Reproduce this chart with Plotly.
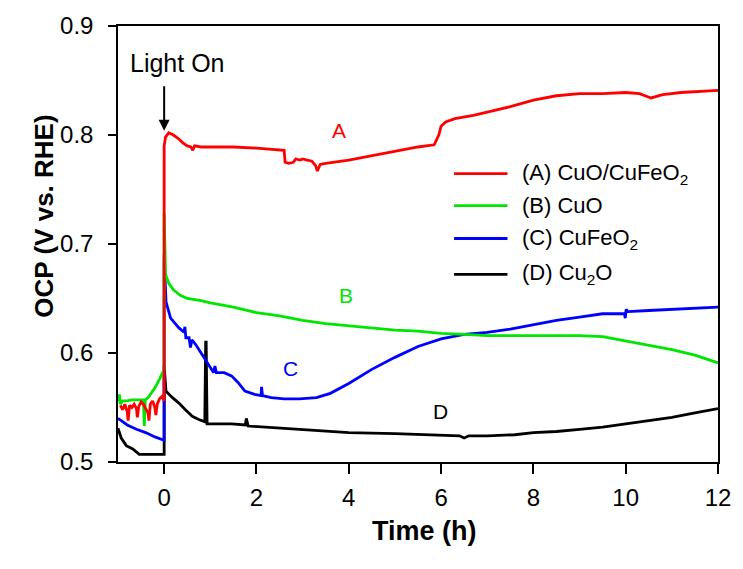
import plotly.graph_objects as go

# ---------------- data ----------------
tA = [-0.95, -0.9, -0.85, -0.8, -0.78, -0.75, -0.7, -0.65, -0.6, -0.58, -0.55, -0.5, -0.45, -0.4, -0.35, -0.33,
      -0.3, -0.25, -0.2, -0.18, -0.15, -0.1, -0.05, 0.0,
      0.0, 0.03, 0.1, 0.2, 0.3, 0.4, 0.5, 0.58, 0.62, 0.66, 0.8, 1.0, 1.5, 2.0, 2.3, 2.6,
      2.62, 2.7, 2.8, 2.85, 2.95, 3.0, 3.1, 3.2, 3.28, 3.32, 3.38, 3.5, 4.0, 4.5, 5.0, 5.5, 5.85,
      5.9, 5.95, 6.0, 6.1, 6.3, 6.7, 7.0, 7.5, 8.0, 8.5, 9.0, 9.5, 10.0, 10.3, 10.55, 10.8,
      11.2, 11.6, 12.0]
vA = [0.552, 0.548, 0.553, 0.546, 0.538, 0.552, 0.550, 0.553, 0.549, 0.541, 0.551, 0.555, 0.553, 0.549, 0.545, 0.538,
      0.553, 0.556, 0.550, 0.543, 0.553, 0.558, 0.560, 0.556,
      0.790, 0.798, 0.802, 0.800, 0.797, 0.793, 0.790, 0.789, 0.786, 0.790, 0.789, 0.789, 0.789, 0.788, 0.787, 0.786,
      0.775, 0.774, 0.775, 0.778, 0.777, 0.778, 0.777, 0.776, 0.772, 0.767, 0.773, 0.774, 0.777, 0.781, 0.785, 0.789, 0.791,
      0.796, 0.800, 0.808, 0.812, 0.815, 0.818, 0.821, 0.826, 0.832, 0.836, 0.838, 0.838, 0.839, 0.838, 0.834, 0.837,
      0.839, 0.840, 0.841]

tB = [-1.0, -0.97, -0.95, -0.9, -0.8, -0.7, -0.6, -0.5, -0.45, -0.43, -0.41, -0.35, -0.3, -0.2, -0.1, 0.0,
      0.0, 0.03, 0.1, 0.2, 0.35, 0.5, 0.8, 1.0, 1.5, 2.0, 2.5, 3.0, 3.5, 4.0, 4.5, 5.0, 5.5, 6.0, 6.5,
      7.0, 7.5, 8.0, 8.5, 9.0, 9.5, 10.0, 10.5, 11.0, 11.5, 12.0]
vB = [0.556, 0.562, 0.553, 0.556, 0.556, 0.557, 0.557, 0.557, 0.557, 0.533, 0.557, 0.559, 0.562, 0.568, 0.576, 0.585,
      0.728, 0.672, 0.664, 0.658, 0.653, 0.650, 0.648, 0.646, 0.642, 0.637, 0.634, 0.630, 0.627, 0.625, 0.623, 0.621,
      0.620, 0.618, 0.617, 0.616, 0.616, 0.616, 0.616, 0.616, 0.615, 0.611, 0.607, 0.603, 0.598, 0.591]

tC = [-1.0, -0.9, -0.8, -0.6, -0.4, -0.2, 0.0,
      0.0, 0.04, 0.14, 0.32, 0.43, 0.45, 0.47, 0.54, 0.57, 0.6, 0.68, 0.82, 0.96, 1.07, 1.1, 1.13, 1.3, 1.46,
      1.6, 1.75, 1.96, 2.1, 2.11, 2.13, 2.32, 2.6, 2.93, 3.3, 3.6, 4.0, 4.5, 5.0, 5.5, 6.0, 6.5, 7.0, 7.5,
      8.0, 8.5, 9.0, 9.5, 9.97, 9.99, 10.01, 10.05, 10.5, 11.0, 11.5, 12.0]
vC = [0.540, 0.537, 0.534, 0.530, 0.527, 0.523, 0.520,
      0.690, 0.647, 0.632, 0.623, 0.619, 0.624, 0.614, 0.614, 0.605, 0.612, 0.608, 0.599, 0.590, 0.582, 0.588, 0.582,
      0.582, 0.579, 0.573, 0.565, 0.562, 0.561, 0.569, 0.561, 0.559, 0.558, 0.558, 0.559, 0.563, 0.572, 0.585, 0.596,
      0.606, 0.613, 0.617, 0.619, 0.622, 0.626, 0.630, 0.633, 0.636, 0.636, 0.632, 0.640, 0.638, 0.639, 0.640, 0.641,
      0.642]

tD = [-1.0, -0.93, -0.82, -0.68, -0.54, -0.4, -0.2, 0.0,
      0.0, 0.04, 0.18, 0.32, 0.46, 0.61, 0.75, 0.88, 0.9, 0.91, 0.93, 1.07, 1.46, 1.76, 1.78, 1.82, 2.18, 2.9,
      3.5, 4.0, 5.0, 6.0, 6.4, 6.5, 6.6, 7.0, 7.6, 8.0, 8.5, 9.0, 9.5, 10.0, 10.5, 11.0, 11.5, 12.0]
vD = [0.531, 0.522, 0.515, 0.512, 0.507, 0.507, 0.507, 0.507,
      0.588, 0.565, 0.559, 0.554, 0.548, 0.542, 0.539, 0.537, 0.610, 0.610, 0.535, 0.535, 0.535, 0.534, 0.540, 0.533,
      0.532, 0.530, 0.528, 0.527, 0.526, 0.525, 0.524, 0.522, 0.524, 0.524, 0.525, 0.527, 0.528, 0.530, 0.532, 0.535,
      0.538, 0.541, 0.545, 0.549]

series_names = ["(A) CuO/CuFeO<sub>2</sub>", "(B) CuO", "(C) CuFeO<sub>2</sub>", "(D) Cu<sub>2</sub>O"]
series_letters = ["A", "B", "C", "D"]
letter_pos_t = [3.79, 3.94, 2.74, 5.98]
letter_pos_v = [0.804, 0.653, 0.586, 0.546]
x_ticks = [0, 2, 4, 6, 8, 10, 12]
y_ticks = [0.5, 0.6, 0.7, 0.8, 0.9]

colors = ["#ff0000", "#00e600", "#0000ff", "#000000"]
FONT = "Liberation Sans, Arial, sans-serif"

fig = go.Figure()
# draw order: D, C, B, A (A on top)
data = [(tA, vA), (tB, vB), (tC, vC), (tD, vD)]
for i in [3, 2, 1, 0]:
    t, v = data[i]
    fig.add_trace(go.Scatter(x=t, y=v, mode="lines", name=series_names[i],
                             line=dict(color=colors[i], width=2.8), showlegend=False))

L, R, T, B = 118, 18, 25, 107
W, H = 743, 569
pw, ph = W - L - R, H - T - B

def px_x(p):
    return (p - L) / pw

def px_y(p):
    return (H - B - p) / ph

# manual legend
leg_y = [173, 205, 238, 274]
for i in range(4):
    yy = px_y(leg_y[i])
    fig.add_shape(type="line", xref="paper", yref="paper", x0=px_x(458), x1=px_x(512), y0=yy, y1=yy,
                  line=dict(color=colors[i], width=2.8))
    fig.add_annotation(xref="paper", yref="paper", x=px_x(525), y=yy, text=series_names[i],
                       showarrow=False, xanchor="left", yanchor="middle",
                       font=dict(family=FONT, size=22, color="#000"))

# curve letters
for i in range(4):
    fig.add_annotation(x=letter_pos_t[i], y=letter_pos_v[i], text=series_letters[i], showarrow=False,
                       font=dict(family=FONT, size=21, color=colors[i]))

# Light On
fig.add_annotation(x=0.28, y=0.866, text="Light On", showarrow=False,
                   font=dict(family=FONT, size=25, color="#000"))
fig.add_annotation(x=0, y=0.804, text="", showarrow=True, ax=0, ay=-46, axref="pixel", ayref="pixel",
                   arrowhead=2, arrowsize=1.1, arrowwidth=2, arrowcolor="#000")

# axis titles
fig.add_annotation(xref="paper", yref="paper", x=px_x(428), y=px_y(548), text="<b>Time (h)</b>",
                   showarrow=False, font=dict(family=FONT, size=27, color="#000"))
fig.add_annotation(xref="paper", yref="paper", x=px_x(25), y=px_y(216), text="<b>OCP (V vs. RHE)</b>",
                   showarrow=False, textangle=-90, font=dict(family=FONT, size=26, color="#000"))

fig.update_xaxes(range=[-1, 12], tickvals=x_ticks, ticks="outside", ticklen=10, tickwidth=1.5,
                 tickcolor="#000", showline=True, linecolor="#000", linewidth=1.5, mirror=True,
                 showgrid=False, zeroline=False, ticklabelstandoff=3,
                 tickfont=dict(family=FONT, size=24, color="#000"))
fig.update_yaxes(range=[0.5, 0.9], tickvals=y_ticks, tickformat=".1f", ticks="outside", ticklen=8,
                 tickwidth=1.5, tickcolor="#000", showline=True, linecolor="#000", linewidth=1.5,
                 mirror=True, showgrid=False, zeroline=False, ticklabelstandoff=10,
                 tickfont=dict(family=FONT, size=24, color="#000"))

fig.update_layout(width=W, height=H, margin=dict(l=L, r=R, t=T, b=B),
                  plot_bgcolor="white", paper_bgcolor="white", showlegend=False)

fig.write_html("out.html")
